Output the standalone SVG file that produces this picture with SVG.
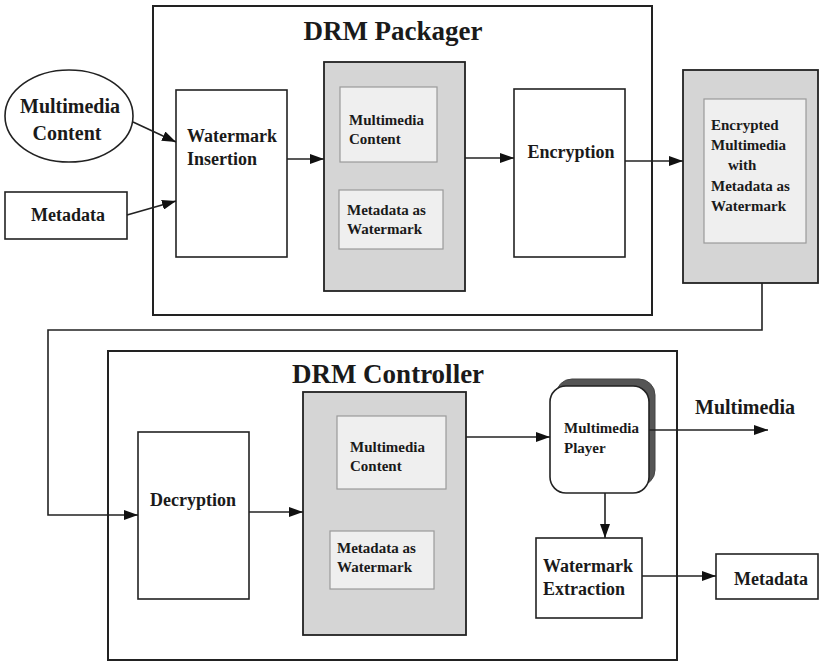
<svg xmlns="http://www.w3.org/2000/svg" width="821" height="662" viewBox="0 0 821 662">
  <style>
    text { font-family: "Liberation Serif", Tinos, "Times New Roman", "DejaVu Serif", serif; font-weight: bold; fill: #1a1a1a; }
    .title { font-size: 27px; }
    .big { font-size: 18px; }
    .lbl { font-size: 20px; }
    .small { font-size: 15px; }
    .frame { fill: #ffffff; stroke: #222; stroke-width: 2; }
    .box { fill: #ffffff; stroke: #222; stroke-width: 1.6; }
    .gray { fill: #d5d5d5; stroke: #222; stroke-width: 1.8; }
    .inner { fill: #efefef; stroke: #9a9a9a; stroke-width: 1.2; }
    .wire { fill: none; stroke: #222; stroke-width: 1.6; }
  </style>
  <defs>
    <marker id="arrow" viewBox="0 0 14 10" refX="14" refY="5" markerWidth="14" markerHeight="10" markerUnits="userSpaceOnUse" orient="auto">
      <path d="M0,0 L14,5 L0,10 Z" fill="#111"/>
    </marker>
  </defs>

  <rect width="821" height="662" fill="#ffffff"/>

  <!-- packager frame -->
  <g id="packager">
    <rect class="frame" x="153" y="6" width="499" height="309"/>
    <text class="title" x="393" y="40" text-anchor="middle">DRM Packager</text>
  </g>

  <!-- controller frame -->
  <g id="controller">
    <rect class="frame" x="108" y="351" width="569" height="309"/>
    <text class="title" x="388" y="383" text-anchor="middle">DRM Controller</text>
  </g>

  <g id="mm-content">
    <ellipse cx="69" cy="116" rx="64" ry="46" fill="#fff" stroke="#222" stroke-width="1.6"/>
    <text class="lbl" x="70" y="113" text-anchor="middle">Multimedia</text>
    <text class="lbl" x="67" y="140" text-anchor="middle">Content</text>
  </g>

  <g id="metadata-in">
    <rect class="box" x="5" y="192" width="122" height="47"/>
    <text class="big" x="68" y="221" text-anchor="middle">Metadata</text>
  </g>

  <g id="wm-insertion">
    <rect class="box" x="176" y="90" width="111" height="167"/>
    <text class="big" x="187" y="142">Watermark</text>
    <text class="big" x="187" y="165">Insertion</text>
  </g>

  <g id="watermarked">
    <rect class="gray" x="324" y="62" width="141" height="229"/>
    <rect class="inner" x="340" y="87" width="97" height="75"/>
    <text class="small" x="349" y="125">Multimedia</text>
    <text class="small" x="349" y="144">Content</text>
    <rect class="inner" x="339" y="190" width="104" height="59"/>
    <text class="small" x="347" y="215">Metadata as</text>
    <text class="small" x="347" y="234">Watermark</text>
  </g>

  <g id="encryption">
    <rect class="box" x="514" y="89" width="111" height="168"/>
    <text class="big" x="571" y="158" text-anchor="middle">Encryption</text>
  </g>

  <g id="encrypted">
    <rect class="gray" x="683" y="70" width="135" height="213"/>
    <rect class="inner" x="704" y="99" width="102" height="144"/>
    <text class="small" x="711" y="130">Encrypted</text>
    <text class="small" x="711" y="150">Multimedia</text>
    <text class="small" x="728" y="170">with</text>
    <text class="small" x="711" y="191">Metadata as</text>
    <text class="small" x="711" y="211">Watermark</text>
  </g>

  <g id="decryption">
    <rect class="box" x="138" y="432" width="111" height="167"/>
    <text class="big" x="193" y="506" text-anchor="middle">Decryption</text>
  </g>

  <g id="decrypted">
    <rect class="gray" x="303" y="392" width="163" height="243"/>
    <rect class="inner" x="337" y="416" width="109" height="73"/>
    <text class="small" x="350" y="452">Multimedia</text>
    <text class="small" x="350" y="471">Content</text>
    <rect class="inner" x="330" y="531" width="104" height="58"/>
    <text class="small" x="337" y="553">Metadata as</text>
    <text class="small" x="337" y="572">Watermark</text>
  </g>

  <g id="player">
    <rect x="556" y="379" width="99" height="107" rx="16" fill="#555" stroke="#444" stroke-width="1"/>
    <rect x="550" y="386" width="99" height="107" rx="16" fill="#fff" stroke="#222" stroke-width="1.6"/>
    <text class="small" x="564" y="433">Multimedia</text>
    <text class="small" x="564" y="453">Player</text>
  </g>

  <g id="wm-extraction">
    <rect class="box" x="536" y="538" width="106" height="80"/>
    <text class="big" x="543" y="572">Watermark</text>
    <text class="big" x="543" y="595">Extraction</text>
  </g>

  <g id="metadata-out">
    <rect class="box" x="716" y="554" width="102" height="45"/>
    <text class="big" x="771" y="585" text-anchor="middle">Metadata</text>
  </g>

  <g id="multimedia-out">
    <text class="lbl" x="695" y="414">Multimedia</text>
  </g>

  <!-- connectors -->
  <g id="connectors">
    <line class="wire" x1="133" y1="122" x2="176" y2="142" marker-end="url(#arrow)"/>
    <line class="wire" x1="127" y1="215" x2="176" y2="201" marker-end="url(#arrow)"/>
    <line class="wire" x1="287" y1="159" x2="324" y2="159" marker-end="url(#arrow)"/>
    <line class="wire" x1="465" y1="158" x2="514" y2="158" marker-end="url(#arrow)"/>
    <line class="wire" x1="625" y1="161" x2="683" y2="161" marker-end="url(#arrow)"/>
    <polyline class="wire" points="762,283 762,330 48,330 48,515 138,515" marker-end="url(#arrow)"/>
    <line class="wire" x1="249" y1="512" x2="303" y2="512" marker-end="url(#arrow)"/>
    <line class="wire" x1="466" y1="437" x2="550" y2="437" marker-end="url(#arrow)"/>
    <line class="wire" x1="649" y1="430" x2="768" y2="430" marker-end="url(#arrow)"/>
    <line class="wire" x1="605" y1="493" x2="605" y2="538" marker-end="url(#arrow)"/>
    <line class="wire" x1="642" y1="576" x2="716" y2="576" marker-end="url(#arrow)"/>
  </g>
</svg>
